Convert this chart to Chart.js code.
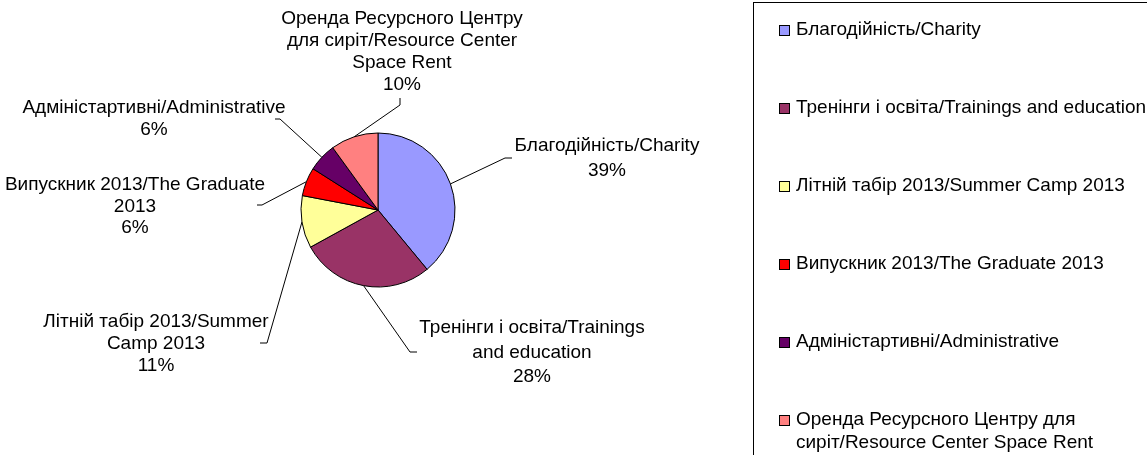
<!DOCTYPE html>
<html lang="uk">
<head>
    <meta charset="UTF-8">
    <title>Розподіл витрат</title>
    <script src="https://cdn.jsdelivr.net/npm/chart.js"></script>
    <style>
        html, body { margin: 0; padding: 0; background: #fff; }
        canvas { display: block; }
    </style>
</head>
<body>
    <canvas id="pieChart" width="1147" height="455"></canvas>

    <script>
        // Data
        const categories = [
            'Благодійність/Charity',
            'Тренінги і освіта/Trainings and education',
            'Літній табір 2013/Summer Camp 2013',
            'Випускник 2013/The Graduate 2013',
            'Адміністартивні/Administrative',
            'Оренда Ресурсного Центру для сиріт/Resource Center Space Rent'
        ];
        const shares = [39, 28, 11, 6, 6, 10];
        const sliceColors = ['#9999FF', '#993366', '#FFFF99', '#FF0000', '#660066', '#FF8080'];

        const FONT = '19px "Liberation Sans", Arial, sans-serif';

        function wrapText(ctx, text, maxWidth) {
            const words = text.split(' ');
            const lines = [];
            let line = '';
            words.forEach(w => {
                const test = line ? line + ' ' + w : w;
                if (line && ctx.measureText(test).width > maxWidth) {
                    lines.push(line);
                    line = w;
                } else {
                    line = test;
                }
            });
            if (line) lines.push(line);
            return lines;
        }

        // Data labels with leader lines, placed like the original spreadsheet chart
        const leaderLabels = {
            id: 'leaderLabels',
            afterDatasetsDraw(chart, args, opts) {
                const ctx = chart.ctx;
                const meta = chart.getDatasetMeta(0);
                const values = chart.data.datasets[0].data;
                const total = values.reduce((a, b) => a + b, 0);
                ctx.save();
                ctx.font = FONT;
                ctx.fillStyle = '#000';
                ctx.strokeStyle = '#000';
                ctx.lineWidth = 1;
                ctx.textAlign = 'center';
                ctx.textBaseline = 'middle';
                meta.data.forEach((arc, i) => {
                    const p = arc.getProps(['x', 'y', 'startAngle', 'endAngle', 'outerRadius'], true);
                    const mid = (p.startAngle + p.endAngle) / 2;
                    const sx = p.x + Math.cos(mid) * p.outerRadius;
                    const sy = p.y + Math.sin(mid) * p.outerRadius;
                    const pl = opts.place[i];
                    ctx.beginPath();
                    ctx.moveTo(sx, sy);
                    ctx.lineTo(pl.elbow[0], pl.elbow[1]);
                    ctx.lineTo(pl.end[0], pl.end[1]);
                    ctx.stroke();
                    const lines = wrapText(ctx, chart.data.labels[i], pl.wrap);
                    lines.push(Math.round(values[i] / total * 100) + '%');
                    lines.forEach((t, k) => ctx.fillText(t, pl.cx, pl.cy + k * pl.lh));
                });
                ctx.restore();
            }
        };

        // Boxed legend on the right
        const boxLegend = {
            id: 'boxLegend',
            afterDraw(chart, args, opts) {
                const ctx = chart.ctx;
                const ds = chart.data.datasets[0];
                ctx.save();
                ctx.strokeStyle = '#000';
                ctx.lineWidth = 1;
                ctx.strokeRect(opts.left + 0.5, opts.top + 0.5, 500, 500);
                ctx.font = FONT;
                ctx.textAlign = 'left';
                ctx.textBaseline = 'middle';
                chart.data.labels.forEach((label, i) => {
                    const y = opts.firstY + i * opts.step;
                    ctx.fillStyle = ds.backgroundColor[i];
                    ctx.fillRect(opts.boxX, y - 5, 11, 11);
                    ctx.strokeRect(opts.boxX + 0.5, y - 5 + 0.5, 10, 10);
                    ctx.fillStyle = '#000';
                    wrapText(ctx, label, opts.maxWidth).forEach((t, k) => {
                        ctx.fillText(t, opts.textX, y + k * opts.lineHeight);
                    });
                });
                ctx.restore();
            }
        };

        new Chart(document.getElementById('pieChart'), {
            type: 'pie',
            data: {
                labels: categories,
                datasets: [{
                    data: shares,
                    backgroundColor: sliceColors,
                    borderColor: '#000',
                    borderWidth: 1,
                    hoverOffset: 0
                }]
            },
            options: {
                responsive: false,
                animation: false,
                radius: 77,
                layout: { padding: { left: 200, right: 591, top: 100, bottom: 135 } },
                plugins: {
                    legend: { display: false },
                    tooltip: { enabled: false },
                    leaderLabels: {
                        place: [
                            { cx: 607, cy: 146, lh: 25, wrap: 400, elbow: [505, 158], end: [512, 158] },
                            { cx: 532, cy: 328, lh: 24.5, wrap: 245, elbow: [410, 352], end: [417, 352] },
                            { cx: 156, cy: 322, lh: 22, wrap: 240, elbow: [267, 343], end: [260, 343] },
                            { cx: 135, cy: 185, lh: 21.5, wrap: 280, elbow: [262, 205], end: [257, 205] },
                            { cx: 154, cy: 108, lh: 22, wrap: 300, elbow: [280, 119], end: [275, 119] },
                            { cx: 402, cy: 19, lh: 22, wrap: 255, elbow: [400, 105], end: [400, 98] }
                        ]
                    },
                    boxLegend: {
                        left: 753, top: 2, boxX: 779, textX: 796,
                        firstY: 30, step: 78, lineHeight: 23, maxWidth: 360
                    }
                }
            },
            plugins: [leaderLabels, boxLegend]
        });
    </script>
</body>
</html>
